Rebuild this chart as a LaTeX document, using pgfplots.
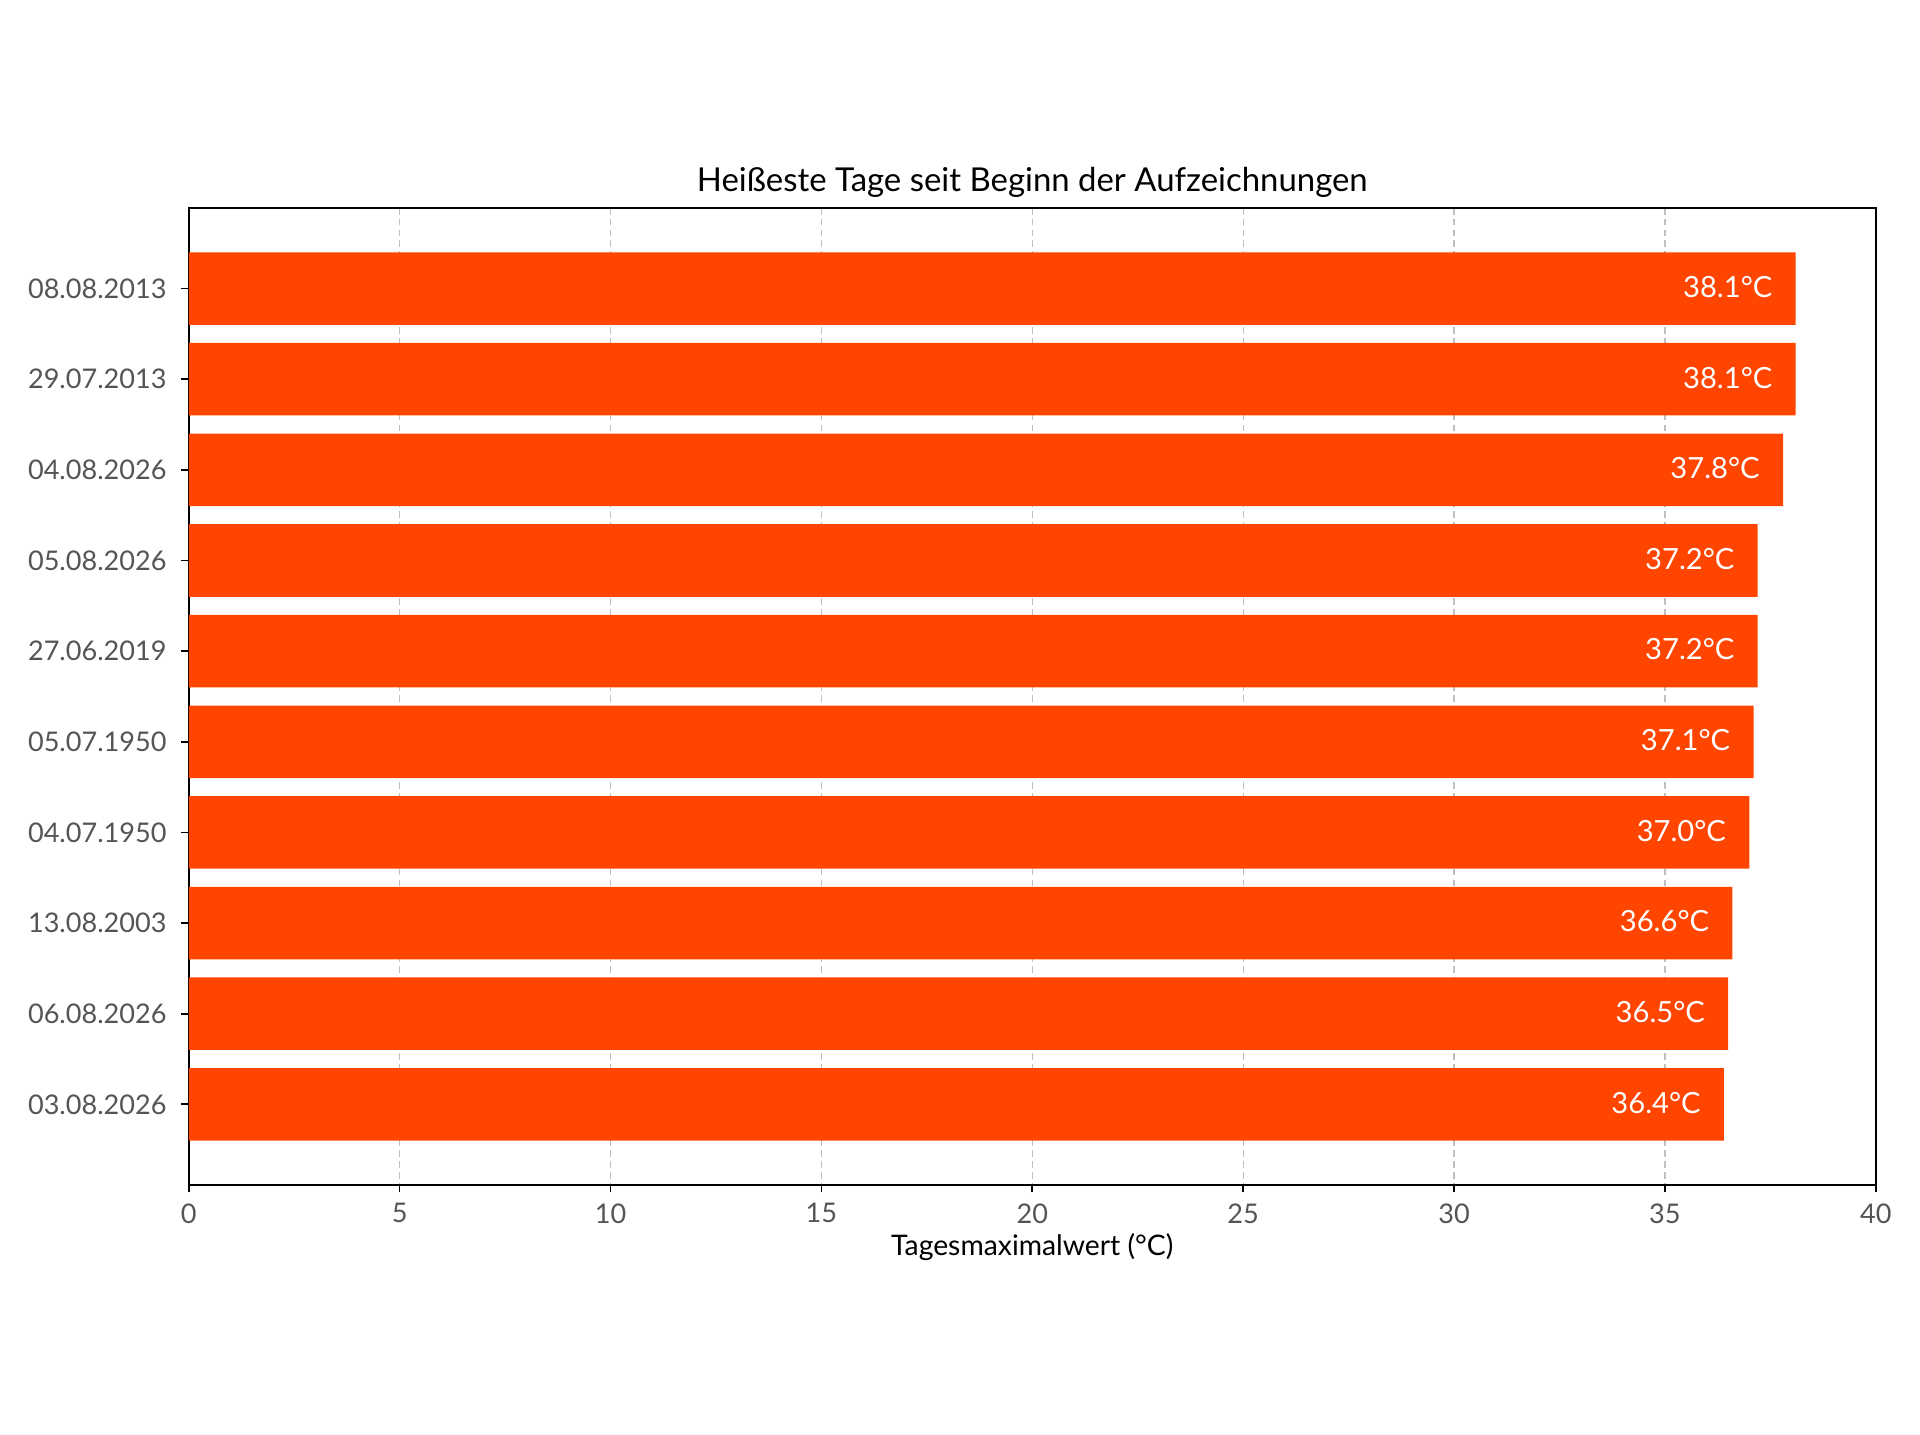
\documentclass[border=0pt]{standalone}
\usepackage{fontspec}
\setmainfont{Lato}
\usepackage{pgfplots}
\pgfplotsset{compat=1.18}
\usepackage{pgfplotstable}
\definecolor{barc}{HTML}{FF4500}
\definecolor{tickc}{HTML}{555555}
\pgfplotstableread{
y x label
0 38.1 38.1°C
1 38.1 38.1°C
2 37.8 37.8°C
3 37.2 37.2°C
4 37.2 37.2°C
5 37.1 37.1°C
6 37.0 37.0°C
7 36.6 36.6°C
8 36.5 36.5°C
9 36.4 36.4°C
}\datatable
\begin{document}
\begin{tikzpicture}
\path[use as bounding box] (-45.3pt,-60pt) rectangle (415.5pt,284.4pt);
\begin{axis}[
  scale only axis,
  width=404.9pt, height=234.5pt,
  xmin=0, xmax=40,
  ymin=-0.89, ymax=9.89,
  y dir=reverse,
  xbar, bar width=0.8,
  xtick={0,5,...,40},
  ytick={0,...,9},
  yticklabels={08.08.2013,29.07.2013,04.08.2026,05.08.2026,27.06.2019,05.07.1950,04.07.1950,13.08.2003,06.08.2026,03.08.2026},
  /pgf/number format/assume math mode=true,
  tick label style={font=\fontsize{6.5pt}{7pt}\selectfont, text=tickc},
  xticklabel style={yshift=0.9pt},
  tick align=outside,
  tick pos=left,
  major tick length=1.8pt,
  tick style={black, line width=0.4pt},
  axis line style={black, line width=0.6pt},
  xmajorgrids,
  grid style={gray!50, dash pattern=on 1.6pt off 1pt, line width=0.3pt},
  xlabel={Tagesmaximalwert (°C)},
  xlabel style={font=\fontsize{6.8pt}{8pt}\selectfont, yshift=4.5pt},
  title={Heißeste Tage seit Beginn der Aufzeichnungen},
  title style={font=\fontsize{7.9pt}{9pt}\selectfont, yshift=-7pt},
  nodes near coords,
  point meta=explicit symbolic,
  every node near coord/.append style={anchor=east, inner sep=0pt, xshift=-5.4pt, yshift=0.4pt, text=white, font=\fontsize{7pt}{8pt}\selectfont},
]
\addplot[fill=barc, draw=none] table[x=x, y=y, meta=label] {\datatable};
\end{axis}
\end{tikzpicture}
\end{document}
